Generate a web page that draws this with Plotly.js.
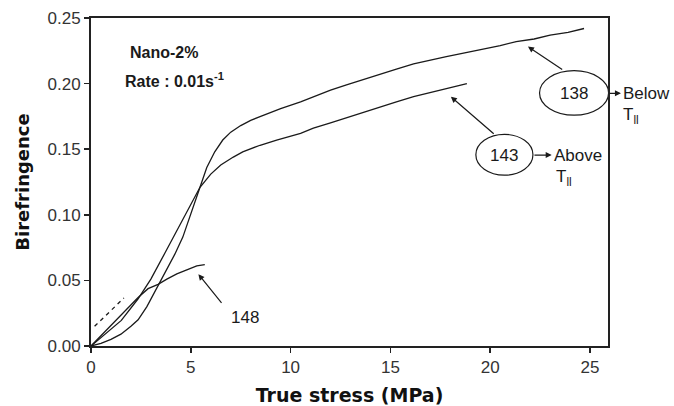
<!DOCTYPE html>
<html>
<head>
<meta charset="utf-8">
<script src="https://cdn.plot.ly/plotly-3.0.1.min.js"></script>
<style>html,body{margin:0;padding:0;background:#fff;}#chart{width:674px;height:406px;}</style>
</head>
<body>
<div id="chart"></div>
<script>
// Sample 138 (below T_ll)
const x138 = [0,0.5,1,1.5,2,2.36,2.8,3.36,3.8,4.2,4.6,5.0,5.46,5.8,6.2,6.6,7.0,7.5,8.0,8.5,9.0,9.5,10.5,11.14,12.0,12.8,13.6,14.5,15.3,16.16,17.0,17.8,18.6,19.5,20.5,21.3,22.2,23.0,23.9,24.7];
const y138 = [0,0.002,0.005,0.009,0.015,0.020,0.030,0.046,0.058,0.070,0.083,0.100,0.121,0.136,0.148,0.157,0.163,0.168,0.172,0.175,0.178,0.181,0.186,0.190,0.195,0.199,0.203,0.207,0.211,0.2150,0.218,0.2205,0.223,0.2256,0.229,0.232,0.234,0.237,0.239,0.242];
// Sample 143 (above T_ll)
const x143 = [0,0.69,1.52,2.36,3.0,3.69,4.2,4.71,5.46,6.0,6.5,7.13,7.6,8.47,9.3,10.5,11.14,12.0,12.8,13.6,14.5,15.3,16.16,17.0,17.5,18.3,18.83];
const y143 = [0,0.0086,0.0195,0.036,0.051,0.0705,0.085,0.100,0.121,0.131,0.138,0.144,0.148,0.153,0.157,0.162,0.166,0.170,0.1740,0.178,0.182,0.186,0.190,0.193,0.195,0.198,0.200];
// Sample 148
const x148 = [0,0.69,1.52,2.36,2.86,3.36,3.8,4.3,4.8,5.3,5.7];
const y148 = [0,0.0106,0.0234,0.037,0.0437,0.047,0.051,0.055,0.058,0.061,0.062];
// dashed extrapolation
const xDash = [0.18,1.65];
const yDash = [0.015,0.0366];

const lineStyle = {color:'#1a1a1a', width:1.3};
const traces = [
  {x:x138, y:y138, mode:'lines', line:lineStyle, hoverinfo:'skip'},
  {x:x143, y:y143, mode:'lines', line:lineStyle, hoverinfo:'skip'},
  {x:x148, y:y148, mode:'lines', line:lineStyle, hoverinfo:'skip'},
  {x:xDash, y:yDash, mode:'lines', line:{color:'#1a1a1a', width:1.3, dash:'4px,4px'}, hoverinfo:'skip'}
];

const FONT = 'Liberation Sans, Arial, sans-serif';
const txtFont = {family:FONT, size:17, color:'#1a1a1a'};
const arrowBase = {showarrow:true, arrowhead:2, arrowsize:1, arrowwidth:1.2, arrowcolor:'#1a1a1a', axref:'x', ayref:'y', text:''};

const annotations = [
  {x:1.85, y:0.224, xanchor:'left', yanchor:'middle', showarrow:false, text:'<b>Nano-2%</b>', font:{family:FONT, size:16, color:'#1a1a1a'}},
  {x:1.6, y:0.2028, xanchor:'left', yanchor:'middle', showarrow:false, text:'<b>Rate : 0.01s<sup>-1</sup></b>', font:{family:FONT, size:16, color:'#1a1a1a'}},
  {x:7.72, y:0.0216, showarrow:false, text:'148', font:txtFont},
  {x:24.18, y:0.1926, showarrow:false, text:'138', font:txtFont},
  {x:20.7, y:0.145, showarrow:false, text:'143', font:txtFont},
  {xref:'paper', yref:'y', x:1.026, y:0.1926, xanchor:'left', showarrow:false, text:'Below', font:txtFont},
  {xref:'paper', yref:'y', x:1.026, y:0.175, xanchor:'left', showarrow:false, text:'T<sub>ll</sub>', font:txtFont},
  {x:23.1, y:0.1455, xanchor:'left', showarrow:false, text:'Above', font:txtFont},
  {x:23.2, y:0.128, xanchor:'left', showarrow:false, text:'T<sub>ll</sub>', font:txtFont},
  Object.assign({}, arrowBase, {x:21.89, y:0.2282, ax:23.68, ay:0.2099}),
  Object.assign({}, arrowBase, {x:18.03, y:0.190, ax:20.25, ay:0.1608}),
  Object.assign({}, arrowBase, {x:5.38, y:0.0547, ax:6.6, ay:0.0318}),
  {xref:'paper', yref:'y', x:1.025, y:0.1926, showarrow:true, axref:'pixel', ayref:'pixel', ax:-13, ay:0, text:'', arrowhead:2, arrowsize:1, arrowwidth:1.2, arrowcolor:'#1a1a1a'},
  Object.assign({}, arrowBase, {x:23.08, y:0.1455, ax:22.14, ay:0.1455})
];

const shapes = [
  {type:'circle', xref:'x', yref:'y', x0:22.47, x1:25.93, y0:0.1759, y1:0.2099, line:{color:'#1a1a1a', width:1.2}},
  {type:'circle', xref:'x', yref:'y', x0:19.28, x1:22.14, y0:0.1302, y1:0.1613, line:{color:'#1a1a1a', width:1.2}}
];

const layout = {
  width:674, height:406,
  margin:{l:91, r:66, t:18, b:60},
  paper_bgcolor:'#fff', plot_bgcolor:'#fff',
  showlegend:false,
  xaxis:{range:[0,25.9], dtick:5, tick0:0, showgrid:false, zeroline:false, showline:true, linecolor:'#222', linewidth:2, mirror:true,
    ticks:'outside', ticklen:5, tickwidth:1.5, tickcolor:'#222',
    tickfont:{family:FONT, size:17, color:'#333'},
    title:{text:'<b>True stress (MPa)</b>', font:{family:'DejaVu Sans, sans-serif', size:19, color:'#111'}, standoff:13}},
  yaxis:{range:[0,0.25], dtick:0.05, tick0:0, tickformat:'.2f', showgrid:false, zeroline:false, showline:true, linecolor:'#222', linewidth:2, mirror:true,
    ticks:'outside', ticklen:5, tickwidth:1.5, tickcolor:'#222',
    tickfont:{family:FONT, size:17, color:'#333'},
    title:{text:'<b>Birefringence</b>', font:{family:'DejaVu Sans, sans-serif', size:18, color:'#111'}, standoff:13}},
  annotations:annotations,
  shapes:shapes
};

Plotly.newPlot('chart', traces, layout, {displayModeBar:false, staticPlot:true});
</script>
</body>
</html>
